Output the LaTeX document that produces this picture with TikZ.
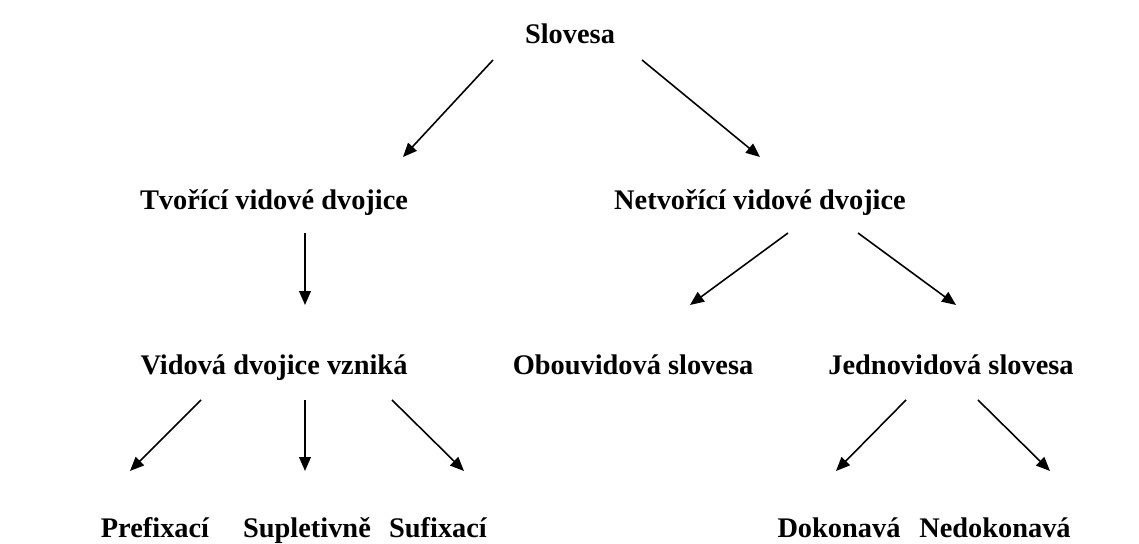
\documentclass[tikz,border=0pt]{standalone}
\usepackage{fontspec}
\setmainfont{Liberation Serif}
\usetikzlibrary{arrows.meta, positioning}

\begin{document}
\begin{tikzpicture}[
        x=0.444pt, y=-0.444pt,
        term/.style={font=\bfseries\fontsize{12.6}{14}\selectfont, inner sep=0pt, anchor=base},
        arr/.style={-{Triangle[length=6.2pt, width=5.2pt]}, line width=0.7pt}
    ]
        \useasboundingbox (0,0) rectangle (1139,544);

        % Top level
        \node[term] (sl) at (570, 44) {Slovesa};

        % Second level
        \node[term] (tv) at (274, 210) {Tvořící vidové dvojice};
        \node[term] (nt) at (760, 210) {Netvořící vidové dvojice};

        % Third level
        \node[term] (vd) at (274, 375) {Vidová dvojice vzniká};
        \node[term] (ob) at (633, 375) {Obouvidová slovesa};
        \node[term] (jd) at (951, 375) {Jednovidová slovesa};

        % Bottom level
        \node[term] (pf) at (155, 538) {Prefixací};
        \node[term] (sp) at (307, 538) {Supletivně};
        \node[term] (sf) at (438, 538) {Sufixací};
        \node[term] (dk) at (839, 538) {Dokonavá};
        \node[term] (nd) at (995, 538) {Nedokonavá};

        % Arrows
        \draw[arr] ([shift={(-77,16)}]sl.base) -- ([shift={(129,-53)}]tv.base);
        \draw[arr] ([shift={(72,16)}]sl.base) -- ([shift={(0,-53)}]nt.base);
        \draw[arr] ([shift={(31,23)}]tv.base) -- ([shift={(31,-70)}]vd.base);
        \draw[arr] ([shift={(28,23)}]nt.base) -- ([shift={(57,-70)}]ob.base);
        \draw[arr] ([shift={(98,23)}]nt.base) -- ([shift={(5,-70)}]jd.base);
        \draw[arr] ([shift={(-73,25)}]vd.base) -- ([shift={(-25,-67)}]pf.base);
        \draw[arr] ([shift={(31,25)}]vd.base) -- ([shift={(-2,-67)}]sp.base);
        \draw[arr] ([shift={(118,25)}]vd.base) -- ([shift={(26,-67)}]sf.base);
        \draw[arr] ([shift={(-45,25)}]jd.base) -- ([shift={(-3,-67)}]dk.base);
        \draw[arr] ([shift={(27,25)}]jd.base) -- ([shift={(55,-67)}]nd.base);
    \end{tikzpicture}
\end{document}
